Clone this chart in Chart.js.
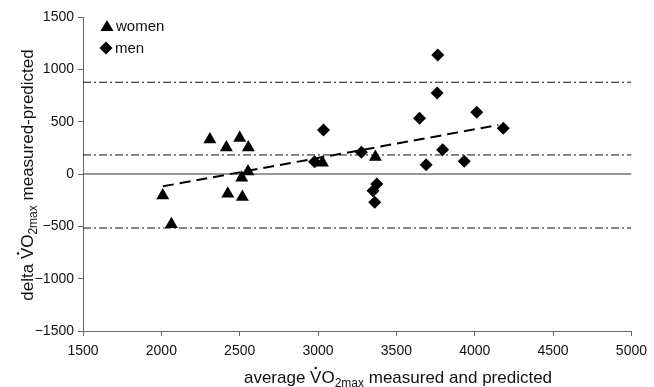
<!DOCTYPE html>
<html><head><meta charset="utf-8">
<script src="https://cdn.jsdelivr.net/npm/chart.js@4"></script>
<style>html,body{margin:0;padding:0;background:#fff}#wrap{width:654px;height:387px}</style>
</head><body><div id="wrap"><canvas id="c" width="654" height="387"></canvas></div>
<script>
const womenX = [2310, 2500, 2415, 2555, 2553, 2513, 2009, 2424, 2517, 2064, 3028, 3366];
const womenY = [330, 345, 252, 252, 25, -35, -205, -188, -220, -480, 108, 162];
const menX = [3035, 2978, 3277, 3351, 3375, 3362, 3648, 3690, 3764, 3760, 3795, 3933, 4013, 4182];
const menY = [421, 118, 207, -160, -96, -271, 532, 89, 1138, 774, 232, 121, 590, 437];
const trendX = [2010, 4150];
const trendY = [-118, 468];
const limitValues = [877, 182, -516];
const xRange = [1500, 5000];
const yRange = [-1500, 1500];
const xTicks = [1500, 2000, 2500, 3000, 3500, 4000, 4500, 5000];
const yTicks = [-1500, -1000, -500, 0, 500, 1000, 1500];
const seriesNames = ['women', 'men'];

const FONT = '"Liberation Sans", Arial, sans-serif';
const pts = (xs, ys) => xs.map((x, i) => ({x, y: ys[i]}));
const hline = v => [{x: xRange[0], y: v}, {x: xRange[1], y: v}];

function drawVO2(ctx, x, y, size) {
  ctx.font = size + 'px ' + FONT;
  const wV = ctx.measureText('V').width;
  ctx.fillText('V', x, y);
  ctx.beginPath();
  ctx.arc(x + wV / 2, y - size * 0.88, 1.2, 0, Math.PI * 2);
  ctx.fill();
  x += wV;
  ctx.fillText('O', x, y);
  x += ctx.measureText('O').width;
  const sub = Math.round(size * 0.68);
  ctx.font = sub + 'px ' + FONT;
  ctx.fillText('2max', x, y + size * 0.22);
  x += ctx.measureText('2max').width;
  ctx.font = size + 'px ' + FONT;
  return x;
}
function measureTitle(ctx, pre, post, size) {
  ctx.font = size + 'px ' + FONT;
  let w = ctx.measureText(pre + 'VO' + post).width;
  ctx.font = Math.round(size * 0.68) + 'px ' + FONT;
  w += ctx.measureText('2max').width;
  return w;
}
function drawTitle(ctx, pre, post, size, cx, cy) {
  const w = measureTitle(ctx, pre, post, size);
  let x = cx - w / 2;
  ctx.font = size + 'px ' + FONT;
  ctx.fillText(pre, x, cy);
  x += ctx.measureText(pre).width;
  x = drawVO2(ctx, x, cy, size);
  ctx.fillText(post, x, cy);
}

const extras = {
  id: 'extras',
  afterDraw(chart) {
    const ctx = chart.ctx;
    ctx.save();
    ctx.fillStyle = '#111';
    ctx.textBaseline = 'alphabetic';
    ctx.textAlign = 'left';
    drawTitle(ctx, 'average ', ' measured and predicted', 17, 398, 383);
    ctx.save();
    ctx.translate(33, 175);
    ctx.rotate(-Math.PI / 2);
    drawTitle(ctx, 'delta ', ' measured-predicted', 17, 0, 0);
    ctx.restore();
    ctx.fillStyle = '#000';
    ctx.beginPath();
    ctx.moveTo(107, 20); ctx.lineTo(113.5, 31); ctx.lineTo(100.5, 31); ctx.closePath(); ctx.fill();
    ctx.beginPath();
    ctx.moveTo(106, 41.5); ctx.lineTo(112.5, 48); ctx.lineTo(106, 54.5); ctx.lineTo(99.5, 48); ctx.closePath(); ctx.fill();
    ctx.font = '15px ' + FONT;
    ctx.fillStyle = '#111';
    ctx.fillText(seriesNames[0], 116, 31);
    ctx.fillText(seriesNames[1], 115, 53);
    ctx.restore();
  }
};

const limitDatasets = limitValues.map(v => ({
  type: 'line', data: hline(v), borderColor: '#111', borderWidth: 1,
  borderDash: [8, 3, 2, 3], pointRadius: 0, fill: false, order: 5
}));

const fmt = v => v < 0 ? '\u2212' + Math.abs(v) : String(v);

new Chart(document.getElementById('c'), {
  type: 'scatter',
  data: {
    datasets: [
      {label: seriesNames[0], data: pts(womenX, womenY), pointStyle: 'triangle', pointRadius: 7.5,
       backgroundColor: '#000', borderColor: '#000', borderWidth: 0, order: 1},
      {label: seriesNames[1], data: pts(menX, menY), pointStyle: 'rectRot', pointRadius: 6.5,
       backgroundColor: '#000', borderColor: '#000', borderWidth: 0, order: 1},
      {type: 'line', data: pts(trendX, trendY), borderColor: '#000', borderWidth: 2,
       borderDash: [11, 6], pointRadius: 0, fill: false, order: 2},
      {type: 'line', data: hline(0), borderColor: '#333', borderWidth: 1, pointRadius: 0, fill: false, order: 4},
      ...limitDatasets
    ]
  },
  options: {
    responsive: false, animation: false, devicePixelRatio: 1,
    layout: {padding: {top: 17, right: 18, left: 0, bottom: 0}},
    plugins: {legend: {display: false}, tooltip: {enabled: false}},
    scales: {
      x: {
        type: 'linear', min: xRange[0], max: xRange[1],
        afterBuildTicks: s => { s.ticks = xTicks.map(v => ({value: v})); },
        afterFit: s => { s.height = 56; },
        grid: {drawOnChartArea: false, drawTicks: true, tickLength: 5, color: '#666'},
        border: {color: '#666', width: 1},
        ticks: {color: '#111', font: {family: FONT, size: 14}, padding: 7, maxRotation: 0, callback: fmt}
      },
      y: {
        type: 'linear', min: yRange[0], max: yRange[1],
        afterBuildTicks: s => { s.ticks = yTicks.map(v => ({value: v})); },
        afterFit: s => { s.width = 83; },
        grid: {drawOnChartArea: false, drawTicks: true, tickLength: 5, color: '#666'},
        border: {color: '#666', width: 1},
        ticks: {color: '#111', font: {family: FONT, size: 14}, padding: 4, callback: fmt}
      }
    }
  },
  plugins: [extras]
});
</script></body></html>
